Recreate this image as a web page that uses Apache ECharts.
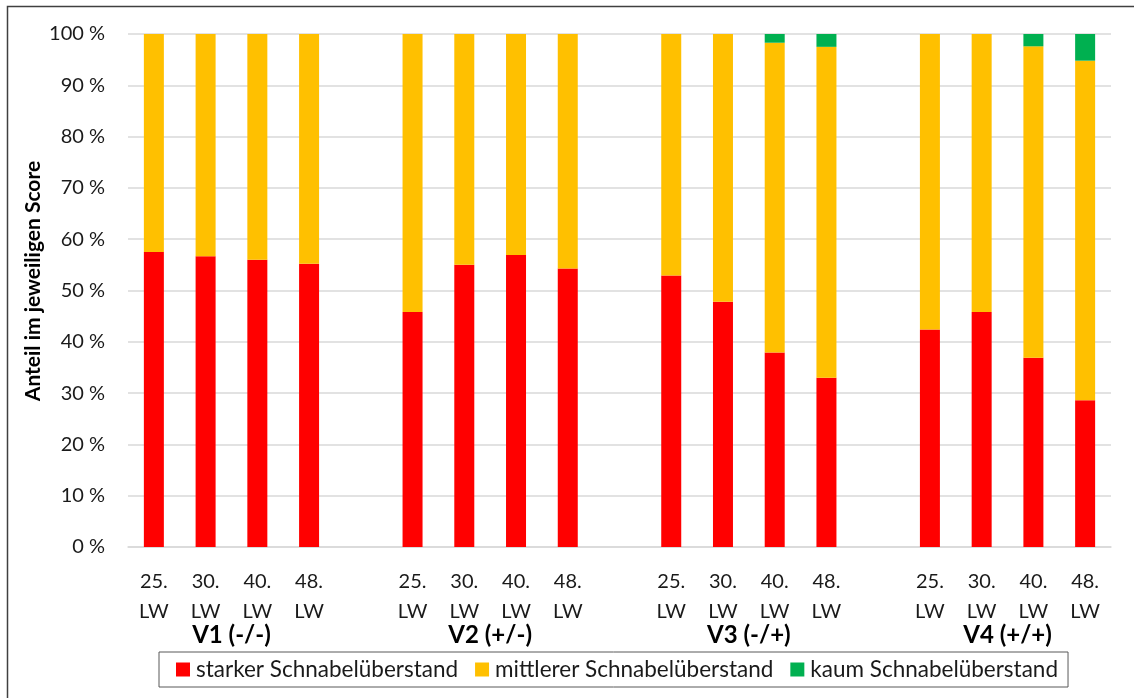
<!DOCTYPE html>
<html>
<head>
<meta charset="utf-8">
<script src="https://cdn.jsdelivr.net/npm/echarts@6/dist/echarts.min.js"></script>
<style>
html,body{margin:0;padding:0;background:#fff;}
#chart{width:1134px;height:698px;}
</style>
</head>
<body>
<div id="chart"></div>
<script>
// ---- data ----
const groups = ['V1 (-/-)', 'V2 (+/-)', 'V3 (-/+)', 'V4 (+/+)'];
const weeks = ['25.\nLW', '30.\nLW', '40.\nLW', '48.\nLW'];
const seriesNames = ['starker Schnabelüberstand', 'mittlerer Schnabelüberstand', 'kaum Schnabelüberstand'];
const stark  = [57.5, 56.7, 56.0, 55.2,  45.8, 55.0, 56.9, 54.3,  52.9, 47.8, 37.9, 33.0,  42.4, 45.8, 36.9, 28.6];
const mittel = [42.5, 43.3, 44.0, 44.8,  54.2, 45.0, 43.1, 45.7,  47.1, 52.2, 60.4, 64.5,  57.6, 54.2, 60.7, 66.2];
const kaum   = [0, 0, 0, 0,  0, 0, 0, 0,  0, 0, 1.7, 2.5,  0, 0, 2.4, 5.2];
const yTicks = [0, 10, 20, 30, 40, 50, 60, 70, 80, 90, 100];
const yTitle = 'Anteil im jeweiligen Score';

// ---- build category slots (one empty slot between groups) ----
const categories = [];
const groupCenters = {};
groups.forEach((g, gi) => {
  if (gi > 0) categories.push('');
  const start = categories.length;
  weeks.forEach(w => categories.push(w));
  groupCenters[start + weeks.length / 2] = g;
});
function spread(vals) {
  const out = [];
  let k = 0;
  groups.forEach((g, gi) => {
    if (gi > 0) out.push('-');
    weeks.forEach(() => { out.push(vals[k]); k++; });
  });
  return out;
}

const FONT = 'Lato, "Open Sans", sans-serif';
const colors = ['#ff0000', '#ffc000', '#00b050'];

const chart = echarts.init(document.getElementById('chart'), null, {renderer: 'canvas'});
chart.setOption({
  animation: false,
  textStyle: {fontFamily: FONT},
  grid: {left: 128, right: 23, top: 34, bottom: 151, containLabel: false},
  legend: {
    data: seriesNames,
    left: 159,
    top: 652,
    padding: [6, 10, 6, 17],
    itemWidth: 14,
    itemHeight: 14,
    itemGap: 17,
    icon: 'rect',
    borderColor: '#595959',
    borderWidth: 1,
    textStyle: {fontFamily: FONT, fontSize: 22.5, color: '#1a1a1a', padding: [0, 0, 0, 1]}
  },
  xAxis: [
    {
      type: 'category',
      data: categories,
      axisLine: {show: true, lineStyle: {color: '#d9d9d9', width: 1.5}},
      axisTick: {show: false},
      axisLabel: {
        interval: 0,
        margin: 20,
        fontFamily: FONT,
        fontSize: 20,
        lineHeight: 30,
        color: '#1a1a1a'
      }
    },
    {
      type: 'value',
      position: 'bottom',
      min: 0,
      max: categories.length,
      interval: 1,
      axisLine: {show: false},
      axisTick: {show: false},
      splitLine: {show: false},
      axisLabel: {
        show: true,
        margin: 76,
        showMinLabel: true,
        showMaxLabel: true,
        hideOverlap: false,
        fontFamily: FONT,
        fontSize: 24,
        fontWeight: 'bold',
        color: '#000',
        formatter: v => groupCenters[v] || ''
      }
    }
  ],
  yAxis: {
    type: 'value',
    min: yTicks[0],
    max: yTicks[yTicks.length - 1],
    interval: 10,
    axisLine: {show: false},
    axisTick: {show: false},
    splitLine: {show: true, lineStyle: {color: '#d9d9d9', width: 1.5}},
    axisLabel: {
      margin: 23,
      fontFamily: FONT,
      fontSize: 20,
      color: '#1a1a1a',
      formatter: '{value} %'
    }
  },
  series: [
    {name: seriesNames[0], type: 'bar', stack: 'a', barWidth: 20, data: spread(stark), itemStyle: {color: colors[0]}},
    {name: seriesNames[1], type: 'bar', stack: 'a', barWidth: 20, data: spread(mittel), itemStyle: {color: colors[1]}},
    {name: seriesNames[2], type: 'bar', stack: 'a', barWidth: 20, data: spread(kaum), itemStyle: {color: colors[2]}}
  ],
  graphic: [
    {
      type: 'rect',
      left: 5, top: 4,
      shape: {width: 1200, height: 800},
      style: {fill: 'none', stroke: '#404040', lineWidth: 1.5},
      silent: true,
      z: -10
    },
    {
      type: 'text',
      x: 33, y: 281,
      rotation: Math.PI / 2,
      style: {
        text: yTitle,
        fontFamily: FONT,
        fontSize: 21,
        fontWeight: 'bold',
        fill: '#000',
        align: 'center',
        verticalAlign: 'middle'
      },
      silent: true
    }
  ]
});
</script>
</body>
</html>
